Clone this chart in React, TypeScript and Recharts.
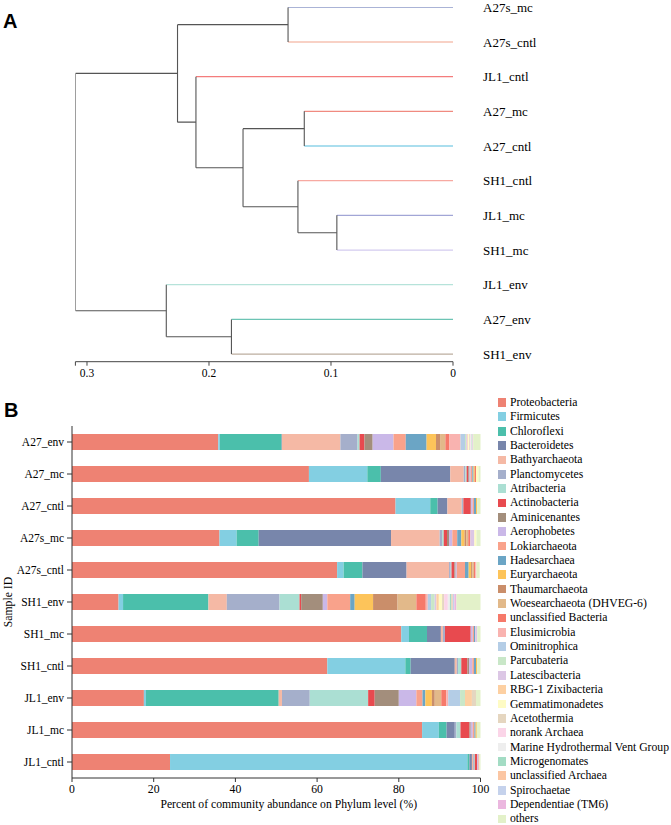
import React from 'react';
import { LineChart, Line, XAxis, YAxis, BarChart, Bar, Legend } from 'recharts';

const SERIF = '"Liberation Serif", "Times New Roman", serif';
const SANS = '"Liberation Sans", Arial, sans-serif';

// ---------- Panel A: hierarchical clustering ----------
const leaves = ['A27s_mc', 'A27s_cntl', 'JL1_cntl', 'A27_mc', 'A27_cntl', 'SH1_cntl', 'JL1_mc', 'SH1_mc', 'JL1_env', 'A27_env', 'SH1_env'];
const leafColors = ['#8e9ac8', '#f6c2b2', '#f47c7c', '#f08a80', '#8ed3e8', '#f7a9a1', '#a2a6d6', '#d3cbef', '#b6e3da', '#6cc4b4', '#bcae9f'];
const mergeLeft = ['A27s_mc', 'A27_mc', 'JL1_mc', 'SH1_cntl', 'n2', 'JL1_cntl', 'n1', 'A27_env', 'JL1_env', 'n7'];
const mergeRight = ['A27s_cntl', 'A27_cntl', 'SH1_mc', 'n3', 'n4', 'n5', 'n6', 'SH1_env', 'n8', 'n9'];
const mergeHeight = [0.1352, 0.1219, 0.0952, 0.1271, 0.1721, 0.2107, 0.2258, 0.1816, 0.235, 0.3095];
const distTicks = [0, 0.1, 0.2, 0.3, 0.3095];
const distLabels = ['0', '0.1', '0.2', '0.3', ''];

// ---------- Panel B: stacked phylum composition ----------
const samples = ['A27_env', 'A27_mc', 'A27_cntl', 'A27s_mc', 'A27s_cntl', 'SH1_env', 'SH1_mc', 'SH1_cntl', 'JL1_env', 'JL1_mc', 'JL1_cntl'];
const phyla = [
  'Proteobacteria', 'Firmicutes', 'Chloroflexi', 'Bacteroidetes', 'Bathyarchaeota', 'Planctomycetes',
  'Atribacteria', 'Actinobacteria', 'Aminicenantes', 'Aerophobetes', 'Lokiarchaeota', 'Hadesarchaea',
  'Euryarchaeota', 'Thaumarchaeota', 'Woesearchaeota (DHVEG-6)', 'unclassified Bacteria', 'Elusimicrobia',
  'Ominitrophica', 'Parcubateria', 'Latescibacteria', 'RBG-1 Zixibacteria', 'Gemmatimonadetes',
  'Acetothermia', 'norank Archaea', 'Marine Hydrothermal Vent Group', 'Microgenomates',
  'unclassified Archaea', 'Spirochaetae', 'Dependentiae (TM6)', 'others',
];
const phylumColors = [
  '#ee8273', '#83cfe2', '#4bbfab', '#7886ab', '#f5b9a5', '#a5afcb',
  '#abdfd3', '#e84a4f', '#a38e7c', '#cab8e8', '#f9a28b', '#6ba5c5',
  '#fdc45a', '#ca8e6a', '#e2b98a', '#f6796a', '#f9b3b0',
  '#b4cde6', '#c9e7c8', '#dcc7e5', '#fdd0a2', '#fefbc4',
  '#e5d6c0', '#fbd5e8', '#eeeeee', '#a3dcc4',
  '#fbc6a3', '#c5d2ec', '#ebb7df', '#e3f1c9',
];

const A27_env = [35.8, 0.4, 15.1, 0.1, 14.3, 4.2, 0.5, 1.2, 2.0, 5.1, 3.0, 5.1, 2.3, 1.0, 1.3, 1.0, 2.7, 1.1, 0.3, 0.3, 0.2, 0.2, 0.2, 0.2, 0.2, 0.1, 0.1, 0.1, 0.1, 1.8];
const A27_mc = [58.0, 14.3, 3.3, 17.0, 3.3, 0.4, 0.3, 0.4, 0.3, 0.3, 0.4, 0.3, 0.3, 0, 0, 0.3, 0, 0, 0, 0, 0, 0.6, 0, 0, 0, 0, 0, 0, 0, 0.5];
const A27_cntl = [79.2, 8.5, 1.8, 2.4, 3.5, 0.3, 0.1, 1.8, 0.1, 0.4, 0.3, 0.5, 0.3, 0, 0, 0, 0, 0, 0, 0, 0, 0, 0, 0, 0, 0, 0, 0, 0, 0.8];
const A27s_mc = [36.1, 4.2, 5.4, 32.4, 11.9, 0.6, 0.4, 0.8, 0.5, 0.8, 1.2, 1.0, 0.8, 0.4, 0.5, 0.5, 0, 0, 0, 1.0, 0, 0.5, 0, 0, 0, 0, 0, 0, 0, 1.0];
const A27s_cntl = [64.9, 1.6, 4.6, 10.8, 10.4, 0.4, 0.2, 0.7, 0.3, 0.3, 2.0, 0.9, 0.6, 0.3, 0.4, 0.3, 0.3, 0, 0, 0, 0, 0, 0, 0, 0, 0, 0, 0, 0, 0.8];
const SH1_env = [11.4, 1.1, 20.9, 0, 4.5, 12.9, 4.9, 0.4, 5.3, 1.1, 5.6, 1.1, 4.5, 6.0, 4.6, 2.3, 0.5, 0.8, 0.9, 0.4, 0.6, 0.8, 0.5, 0.9, 0.5, 0.4, 0.3, 0.4, 0.5, 5.9];
const SH1_mc = [80.6, 1.9, 4.4, 3.4, 0.5, 0.5, 0, 6.3, 0, 0.5, 0.3, 0.3, 0, 0, 0, 0, 0, 0, 0, 0.5, 0, 0, 0, 0, 0, 0, 0, 0, 0, 0.8];
const SH1_cntl = [62.5, 19.1, 1.3, 10.8, 0.5, 0.3, 0.8, 1.5, 0.4, 0.8, 0.4, 0.5, 0.3, 0, 0, 0, 0, 0, 0, 0, 0, 0, 0, 0, 0, 0, 0, 0, 0, 0.8];
const JL1_env = [17.6, 0.5, 32.5, 0, 0.8, 6.8, 14.3, 1.6, 5.9, 4.3, 1.5, 0.7, 1.6, 0.7, 1.6, 1.2, 0.5, 2.9, 1.2, 0, 1.7, 0, 1.0, 0, 0, 0, 0, 0, 0, 1.1];
const JL1_mc = [85.7, 4.1, 1.9, 2.0, 0, 0.4, 1.0, 2.2, 0.3, 0.5, 0.4, 0.3, 0.3, 0, 0, 0, 0, 0, 0, 0, 0, 0, 0, 0, 0, 0, 0, 0, 0, 0.9];
const JL1_cntl = [24.0, 72.8, 0.5, 0.6, 0.3, 0.2, 0.2, 0.6, 0, 0.3, 0.2, 0, 0, 0, 0, 0, 0, 0, 0, 0, 0, 0, 0, 0, 0, 0, 0, 0, 0, 0.3];
const sampleValues = [A27_env, A27_mc, A27_cntl, A27s_mc, A27s_cntl, SH1_env, SH1_mc, SH1_cntl, JL1_env, JL1_mc, JL1_cntl];
const pctTicks = [0, 20, 40, 60, 80, 100];

const DARK = '#555555';

type Seg = { pts: { x: number; y: number }[]; color: string; width: number };

function buildSegments(): Seg[] {
  const pos: Record<string, { h: number; y: number }> = {};
  leaves.forEach((l, i) => (pos[l] = { h: 0, y: i }));
  const segs: Seg[] = [];
  mergeHeight.forEach((h, k) => {
    const a = mergeLeft[k];
    const b = mergeRight[k];
    [a, b].forEach((c) => {
      const p = pos[c];
      const li = leaves.indexOf(c);
      segs.push({
        pts: [{ x: p.h, y: p.y }, { x: h, y: p.y }],
        color: li >= 0 ? leafColors[li] : DARK,
        width: li >= 0 ? 1.3 : 1.1,
      });
    });
    segs.push({ pts: [{ x: h, y: pos[a].y }, { x: h, y: pos[b].y }], color: DARK, width: 1.1 });
    pos['n' + (k + 1)] = { h, y: (pos[a].y + pos[b].y) / 2 };
  });
  return segs;
}

const segments = buildSegments();

const barData = samples.map((s, i) => {
  const row: Record<string, number | string> = { sample: s };
  phyla.forEach((_, j) => {
    row['p' + j] = sampleValues[i][j];
  });
  return row;
});

const renderLegend = () => (
  <div style={{ fontFamily: SERIF, fontSize: 11.7, color: '#000' }}>
    {phyla.map((p, i) => (
      <div key={p} style={{ display: 'flex', alignItems: 'center', height: 14.36, whiteSpace: 'nowrap' }}>
        <span style={{ display: 'inline-block', width: 8.7, height: 8.7, background: phylumColors[i], marginRight: 3.5, flex: 'none' }} />
        <span>{p}</span>
      </div>
    ))}
  </div>
);

export default function App() {
  return (
    <div style={{ position: 'absolute', left: 0, top: 0, width: 671, height: 825, background: '#fff', overflow: 'hidden' }}>
      <div style={{ position: 'absolute', left: 0, top: 0 }}>
        <LineChart width={671} height={395} margin={{ top: 7.3, right: 68, bottom: 3.3, left: 75.4 }}>
          <XAxis
            dataKey="x"
            type="number"
            domain={[0, 0.3095]}
            reversed
            allowDataOverflow
            ticks={distTicks}
            interval={0}
            tickFormatter={(v: number) => distLabels[distTicks.indexOf(v)] ?? ''}
            tickSize={4}
            tickMargin={3}
            height={30}
            stroke="#444"
            tick={{ fill: '#000', fontSize: 11.5, fontFamily: SERIF }}
          />
          <YAxis
            type="number"
            orientation="right"
            domain={[0, 10.22]}
            reversed
            allowDataOverflow
            ticks={leaves.map((_, i) => i)}
            interval={0}
            tickFormatter={(v: number) => leaves[v] ?? ''}
            axisLine={false}
            tickLine={false}
            tickSize={6}
            tickMargin={24}
            width={150}
            tick={{ fill: '#000', fontSize: 13, fontFamily: SERIF }}
          />
          {segments.map((s, i) => (
            <Line
              key={i}
              data={s.pts}
              dataKey="y"
              type="linear"
              stroke={s.color}
              strokeWidth={s.width}
              dot={false}
              activeDot={false}
              isAnimationActive={false}
            />
          ))}
        </LineChart>
      </div>
      <div style={{ position: 'absolute', left: 3, top: 11.4, fontFamily: SANS, fontWeight: 700, fontSize: 20, lineHeight: '20px' }}>A</div>

      <div style={{ position: 'absolute', left: 0, top: 395 }}>
        <BarChart
          width={671}
          height={430}
          layout="vertical"
          data={barData}
          margin={{ top: 31, right: 17.2, bottom: 7, left: 0 }}
        >
          <XAxis
            type="number"
            domain={[0, 100]}
            ticks={pctTicks}
            interval={0}
            tickSize={4}
            tickMargin={3}
            height={40}
            stroke="#333"
            tick={{ fill: '#000', fontSize: 11.7, fontFamily: SERIF }}
            label={{
              value: 'Percent of community abundance on Phylum level (%)',
              position: 'insideBottom',
              offset: 10.5,
              dx: 12.5,
              style: { fill: '#000', fontSize: 11.7, fontFamily: SERIF },
            }}
          />
          <YAxis
            type="category"
            dataKey="sample"
            width={72}
            interval={0}
            tickSize={5}
            tickMargin={3}
            stroke="#333"
            tick={{ fill: '#000', fontSize: 11.5, fontFamily: SERIF }}
            label={{
              value: 'Sample ID',
              angle: -90,
              position: 'insideLeft',
              offset: 8,
              style: { textAnchor: 'middle', fill: '#000', fontSize: 11.7, fontFamily: SERIF },
            }}
          />
          <Legend
            layout="vertical"
            align="right"
            verticalAlign="top"
            content={renderLegend}
            wrapperStyle={{ left: 497.7, top: 0.3, width: 173.3 }}
          />
          {phyla.map((p, j) => (
            <Bar
              key={p}
              dataKey={'p' + j}
              name={p}
              stackId="s"
              fill={phylumColors[j]}
              barSize={16}
              isAnimationActive={false}
            />
          ))}
        </BarChart>
      </div>
      <div style={{ position: 'absolute', left: 4, top: 399.8, fontFamily: SANS, fontWeight: 700, fontSize: 20, lineHeight: '20px' }}>B</div>
    </div>
  );
}
